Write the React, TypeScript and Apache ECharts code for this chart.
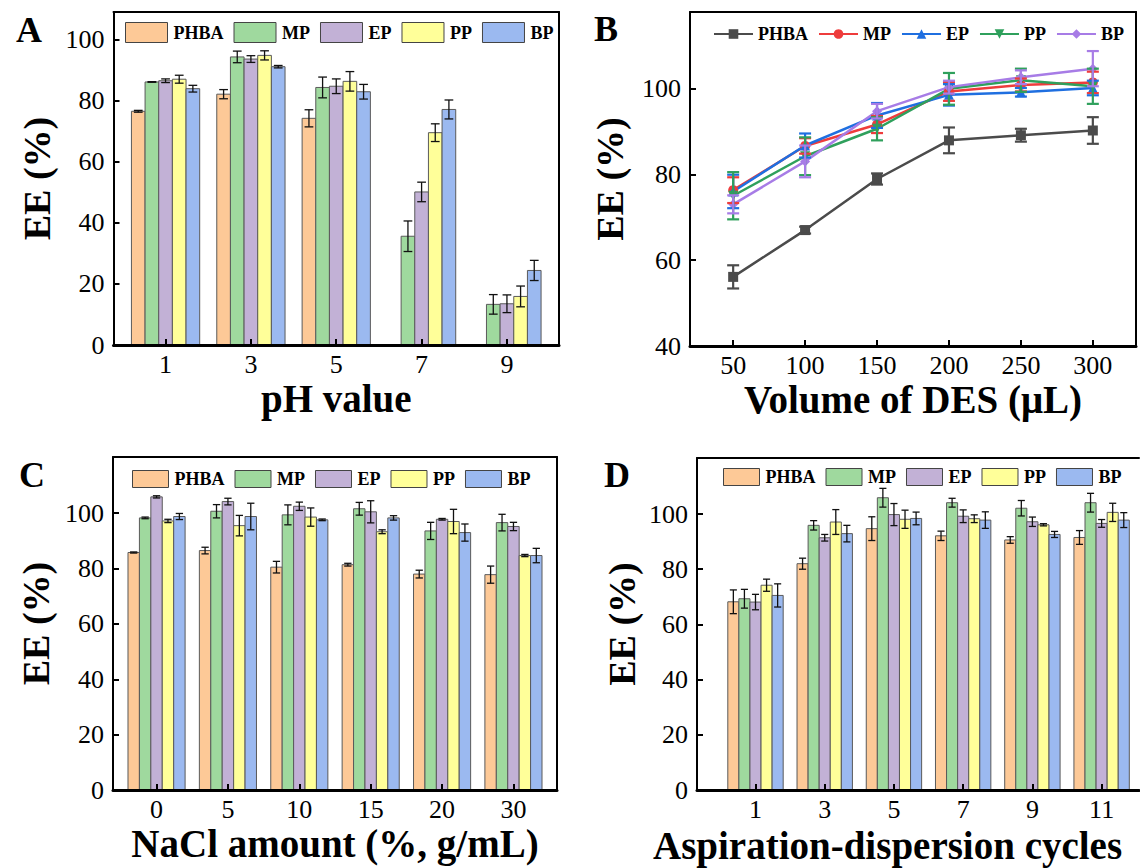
import React, { useEffect, useRef } from 'react';
import * as echarts from 'echarts';

const FONT = 'Liberation Serif, Times New Roman, serif';
const SERIES_NAMES = ['PHBA', 'MP', 'EP', 'PP', 'BP'];
const BAR_COLORS = ['#FDC997', '#9FD99E', '#C2B1D6', '#FFFF99', '#9BB9F0'];
const LINE_COLORS = ['#4B4B4B', '#EE3C3C', '#1F6FE0', '#2FA05C', '#A77CE6'];
const LINE_SYMBOLS = ['rect', 'circle', 'triangle', 'triangle', 'diamond'];
const LINE_SYMBOL_ROTATE = [0, 0, 0, 180, 0];

// Panel A: pH value
const phCategories = ['1', '3', '5', '7', '9'];
const phPHBA = [76.5, 82.1, 74.2, null, null];
const phPHBAErr = [0.3, 1.5, 2.8, null, null];
const phMP = [86.1, 94.3, 84.3, 35.6, 13.3];
const phMPErr = [0.1, 1.9, 3.4, 5.0, 3.2];
const phEP = [86.5, 93.6, 84.7, 50.1, 13.5];
const phEPErr = [0.6, 1.1, 2.4, 3.2, 2.9];
const phPP = [87.0, 94.8, 86.3, 69.5, 15.9];
const phPPErr = [1.3, 1.5, 3.2, 2.9, 3.4];
const phBP = [83.9, 91.1, 82.9, 77.1, 24.4];
const phBPErr = [1.1, 0.4, 2.4, 3.1, 3.3];
const phYTicks = [0, 20, 40, 60, 80, 100];

// Panel B: Volume of DES
const desVolumes = [50, 100, 150, 200, 250, 300];
const desPHBA = [56.1, 67.0, 78.9, 87.9, 89.1, 90.2];
const desPHBAErr = [2.7, 0.8, 1.3, 3.0, 1.5, 3.1];
const desMP = [76.3, 86.6, 91.6, 99.3, 100.8, 101.4];
const desMPErr = [3.0, 1.8, 2.0, 2.2, 1.5, 2.5];
const desEP = [76.0, 86.7, 93.7, 98.5, 99.1, 100.1];
const desEPErr = [3.9, 2.8, 2.9, 2.5, 1.0, 1.7];
const desPP = [75.0, 84.2, 90.6, 99.9, 101.9, 100.5];
const desPPErr = [5.5, 4.4, 2.7, 3.7, 2.7, 4.1];
const desBP = [73.0, 83.0, 94.7, 100.3, 102.6, 104.6];
const desBPErr = [2.1, 3.7, 1.7, 1.5, 1.6, 4.1];
const desYTicks = [40, 60, 80, 100];

// Panel C: NaCl amount
const naclCategories = ['0', '5', '10', '15', '20', '30'];
const naclPHBA = [85.8, 86.5, 80.5, 81.4, 78.0, 77.8];
const naclPHBAErr = [0.2, 1.2, 2.1, 0.5, 1.4, 3.1];
const naclMP = [98.3, 100.7, 99.4, 101.6, 93.6, 96.6];
const naclMPErr = [0.3, 2.4, 3.6, 2.3, 3.1, 3.0];
const naclEP = [105.9, 104.2, 102.5, 100.5, 97.8, 95.2];
const naclEPErr = [0.4, 1.2, 1.5, 4.0, 0.3, 1.5];
const naclPP = [97.2, 95.5, 98.6, 93.3, 97.0, 84.7];
const naclPPErr = [0.6, 3.7, 3.3, 0.7, 4.4, 0.4];
const naclBP = [98.8, 98.8, 97.6, 98.3, 93.0, 84.7];
const naclBPErr = [1.1, 4.8, 0.3, 0.8, 3.1, 2.6];

// Panel D: Aspiration-dispersion cycles
const cycleCategories = ['1', '3', '5', '7', '9', '11'];
const cyclePHBA = [68.2, 82.0, 94.7, 92.1, 90.6, 91.5];
const cyclePHBAErr = [4.3, 2.0, 4.3, 1.7, 1.2, 2.5];
const cycleMP = [69.3, 95.9, 105.9, 104.1, 102.1, 104.1];
const cycleMPErr = [3.4, 1.7, 3.4, 1.6, 2.8, 3.4];
const cycleEP = [68.1, 91.4, 99.8, 99.2, 97.2, 96.6];
const cycleEPErr = [2.8, 1.2, 4.0, 2.3, 1.7, 1.4];
const cyclePP = [74.2, 97.1, 98.1, 98.3, 96.1, 100.6];
const cyclePPErr = [2.2, 4.5, 3.3, 1.4, 0.4, 3.3];
const cycleBP = [70.5, 92.9, 98.4, 97.8, 92.6, 97.8];
const cycleBPErr = [4.2, 3.0, 2.3, 3.0, 1.1, 2.7];
const barYTicks = [0, 20, 40, 60, 80, 100];

const tickRich = { t: { fontFamily: FONT, fontSize: 26, lineHeight: 24, color: '#000' } };
const nameRich = { n: { fontFamily: FONT, fontSize: 39, lineHeight: 36, fontWeight: 'bold', color: '#000' } };
const yNameRich = { n: { fontFamily: FONT, fontSize: 38, lineHeight: 34, fontWeight: 'bold', color: '#000' } };

function bottomAxis(gridIndex: number, min: number, max: number, ticks: number[], fmt: (v: number) => string, name?: string, nameGap?: number) {
  return {
    type: 'value', gridIndex, min, max, position: 'bottom', z: 6,
    axisLine: { show: true, onZero: false, lineStyle: { color: '#000', width: 3 } },
    axisTick: { show: true, inside: true, length: 6, customValues: ticks, lineStyle: { color: '#000', width: 2 } },
    axisLabel: {
      show: true, customValues: ticks, formatter: (v: number) => '{t|' + fmt(v) + '}',
      fontFamily: FONT, fontSize: 26, color: '#000', margin: 7, rich: tickRich,
    },
    splitLine: { show: false },
    name: name ? '{n|' + name + '}' : '', nameLocation: 'middle', nameGap: nameGap || 30,
    nameTextStyle: { fontFamily: FONT, fontSize: 39, fontWeight: 'bold', color: '#000', rich: nameRich },
  };
}
function topFrame(gridIndex: number, min: number, max: number) {
  return {
    type: 'value', gridIndex, min, max, position: 'top', z: 6,
    axisLine: { show: true, onZero: false, lineStyle: { color: '#000', width: 2 } },
    axisTick: { show: false }, axisLabel: { show: false }, splitLine: { show: false },
  };
}
function leftAxis(gridIndex: number, min: number, max: number, ticks: number[], nameGap: number) {
  return {
    type: 'value', gridIndex, min, max, position: 'left', z: 6,
    axisLine: { show: true, onZero: false, lineStyle: { color: '#000', width: 2 } },
    axisTick: { show: true, inside: true, length: 6, customValues: ticks, lineStyle: { color: '#000', width: 2 } },
    axisLabel: {
      show: true, customValues: ticks, formatter: (v: number) => '{t|' + v + '}',
      fontFamily: FONT, fontSize: 26, color: '#000', margin: 9, rich: tickRich,
    },
    splitLine: { show: false },
    name: '{n|EE (%)}', nameLocation: 'middle', nameGap,
    nameTextStyle: { fontFamily: FONT, fontSize: 38, fontWeight: 'bold', color: '#000', rich: yNameRich },
  };
}
function rightFrame(gridIndex: number, min: number, max: number) {
  return {
    type: 'value', gridIndex, min, max, position: 'right', z: 6,
    axisLine: { show: true, onZero: false, lineStyle: { color: '#000', width: 2 } },
    axisTick: { show: false }, axisLabel: { show: false }, splitLine: { show: false },
  };
}

function barSeries(panel: string, axisIdx: number, s: number, values: (number | null)[], errs: (number | null)[]) {
  const data: number[][] = [];
  values.forEach((v, i) => {
    if (v !== null && v !== undefined) data.push([i, v, (errs[i] as number) || 0]);
  });
  const color = BAR_COLORS[s];
  return {
    type: 'custom', name: panel + '-' + SERIES_NAMES[s], xAxisIndex: axisIdx, yAxisIndex: axisIdx,
    itemStyle: { color, borderColor: '#555', borderWidth: 1 },
    encode: { x: 0, y: 1 }, z: 3,
    data,
    renderItem: (params: any, api: any) => {
      const x = api.value(0), y = api.value(1), e = api.value(2);
      const slot = api.size([1, 0])[0];
      const bw = slot * 0.16;
      const base = api.coord([x, 0]);
      const cx = base[0] + (s - 2) * bw;
      const top = api.coord([x, y])[1];
      const eTop = api.coord([x, y + e])[1];
      const eBot = api.coord([x, y - e])[1];
      const cap = bw * 0.32;
      const children: any[] = [
        { type: 'rect', shape: { x: cx - bw / 2, y: top, width: bw, height: base[1] - top }, style: { fill: color, stroke: '#5a5a5a', lineWidth: 1 } },
      ];
      if (e > 0) {
        children.push(
          { type: 'line', shape: { x1: cx, y1: eTop, x2: cx, y2: eBot }, style: { stroke: '#111', lineWidth: 1.3 } },
          { type: 'line', shape: { x1: cx - cap, y1: eTop, x2: cx + cap, y2: eTop }, style: { stroke: '#111', lineWidth: 1.3 } },
          { type: 'line', shape: { x1: cx - cap, y1: eBot, x2: cx + cap, y2: eBot }, style: { stroke: '#111', lineWidth: 1.3 } },
        );
      }
      return { type: 'group', children };
    },
  };
}

function lineSeries(s: number, values: number[]) {
  return {
    type: 'line', name: 'B-' + SERIES_NAMES[s], xAxisIndex: 2, yAxisIndex: 2, z: 3,
    data: desVolumes.map((x, i) => [x, values[i]]),
    symbol: LINE_SYMBOLS[s], symbolSize: 10, symbolRotate: LINE_SYMBOL_ROTATE[s],
    lineStyle: { color: LINE_COLORS[s], width: 2.5 },
    itemStyle: { color: LINE_COLORS[s] },
  };
}
function lineErrSeries(s: number, values: number[], errs: number[]) {
  const color = LINE_COLORS[s];
  return {
    type: 'custom', name: 'B-err-' + SERIES_NAMES[s], xAxisIndex: 2, yAxisIndex: 2, z: 4,
    encode: { x: 0, y: 1 },
    data: desVolumes.map((x, i) => [x, values[i], errs[i]]),
    renderItem: (params: any, api: any) => {
      const x = api.value(0), y = api.value(1), e = api.value(2);
      const p1 = api.coord([x, y + e]);
      const p2 = api.coord([x, y - e]);
      const cap = 6;
      const st = { stroke: color, lineWidth: 2.2 };
      return {
        type: 'group', children: [
          { type: 'line', shape: { x1: p1[0], y1: p1[1], x2: p2[0], y2: p2[1] }, style: st },
          { type: 'line', shape: { x1: p1[0] - cap, y1: p1[1], x2: p1[0] + cap, y2: p1[1] }, style: st },
          { type: 'line', shape: { x1: p2[0] - cap, y1: p2[1], x2: p2[0] + cap, y2: p2[1] }, style: st },
        ],
      };
    },
  };
}

function barLegend(panel: string, left: number, top: number, iw: number, ih: number) {
  return {
    left, top, padding: 0, itemGap: 10, itemWidth: iw, itemHeight: ih, icon: 'rect', orient: 'horizontal',
    selectedMode: false,
    data: SERIES_NAMES.map((n, s) => ({ name: panel + '-' + n, itemStyle: { color: BAR_COLORS[s], borderColor: '#444', borderWidth: 1 } })),
    formatter: (name: string) => name.split('-')[1],
    textStyle: { fontFamily: FONT, color: '#000', fontSize: 18, fontWeight: 'bold', padding: [0, 0, 0, 1] },
  };
}

export default function App() {
  const ref = useRef<HTMLDivElement>(null);
  useEffect(() => {
    if (!ref.current) return;
    const chart = echarts.init(ref.current, null, { renderer: 'svg' });
    const idx = (v: number, cats: string[]) => cats[Math.round(v)] ?? '';
    const option: any = {
      animation: false,
      backgroundColor: '#fff',
      textStyle: { fontFamily: FONT, color: '#000' },
      grid: [
        { left: 113.5, top: 12, width: 445.5, height: 333, outerBoundsMode: 'none' },
        { left: 690, top: 12, width: 446, height: 334, outerBoundsMode: 'none' },
        { left: 113, top: 457, width: 444, height: 333, outerBoundsMode: 'none' },
        { left: 697, top: 458, width: 442, height: 332, outerBoundsMode: 'none' },
      ],
      xAxis: [
        bottomAxis(0, -0.61, 4.61, [0, 1, 2, 3, 4], (v) => idx(v, phCategories), 'pH value', 35),
        topFrame(0, -0.61, 4.61),
        bottomAxis(1, 20, 330, desVolumes, (v) => String(v), 'Volume of DES (μL)', 35),
        topFrame(1, 20, 330),
        bottomAxis(2, -0.61, 5.61, [0, 1, 2, 3, 4, 5], (v) => idx(v, naclCategories), 'NaCl amount (%, g/mL)', 35),
        topFrame(2, -0.61, 5.61),
        bottomAxis(3, -0.845, 5.54, [0, 1, 2, 3, 4, 5], (v) => idx(v, cycleCategories)),
        topFrame(3, -0.845, 5.54),
      ],
      yAxis: [
        leftAxis(0, 0, 109, phYTicks, 60),
        rightFrame(0, 0, 109),
        leftAxis(1, 40, 117.8, desYTicks, 63),
        rightFrame(1, 40, 117.8),
        leftAxis(2, 0, 120.3, barYTicks, 60),
        rightFrame(2, 0, 120.3),
        leftAxis(3, 0, 120.3, barYTicks, 58),
      ],
      legend: [
        barLegend('A', 125, 22, 42, 20),
        {
          left: 713, top: 25, padding: 0, itemGap: 10, itemWidth: 39, itemHeight: 12, orient: 'horizontal',
          selectedMode: false,
          data: SERIES_NAMES.map((n) => 'B-' + n),
          formatter: (name: string) => name.split('-')[1],
          textStyle: { fontFamily: FONT, color: '#000', fontSize: 18, fontWeight: 'bold' },
        },
        barLegend('C', 132, 470, 36, 17),
        barLegend('D', 723, 468, 36, 17),
      ],
      graphic: [
        { type: 'text', x: 16, y: 30, style: { text: 'A', font: 'bold 36px "Liberation Serif"', fill: '#000', align: 'left', verticalAlign: 'middle' } },
        { type: 'text', x: 594, y: 29, style: { text: 'B', font: 'bold 36px "Liberation Serif"', fill: '#000', align: 'left', verticalAlign: 'middle' } },
        { type: 'text', x: 19, y: 475, style: { text: 'C', font: 'bold 36px "Liberation Serif"', fill: '#000', align: 'left', verticalAlign: 'middle' } },
        { type: 'text', x: 604, y: 475, style: { text: 'D', font: 'bold 36px "Liberation Serif"', fill: '#000', align: 'left', verticalAlign: 'middle' } },
        { type: 'text', x: 653, y: 845, style: { text: 'Aspiration-dispersion cycles', font: 'bold 39px "Liberation Serif"', fill: '#000', align: 'left', verticalAlign: 'middle' } },
      ],
      series: [
        barSeries('A', 0, 0, phPHBA, phPHBAErr),
        barSeries('A', 0, 1, phMP, phMPErr),
        barSeries('A', 0, 2, phEP, phEPErr),
        barSeries('A', 0, 3, phPP, phPPErr),
        barSeries('A', 0, 4, phBP, phBPErr),
        lineSeries(0, desPHBA), lineSeries(1, desMP), lineSeries(2, desEP), lineSeries(3, desPP), lineSeries(4, desBP),
        lineErrSeries(0, desPHBA, desPHBAErr), lineErrSeries(1, desMP, desMPErr), lineErrSeries(2, desEP, desEPErr),
        lineErrSeries(3, desPP, desPPErr), lineErrSeries(4, desBP, desBPErr),
        barSeries('C', 4, 0, naclPHBA, naclPHBAErr),
        barSeries('C', 4, 1, naclMP, naclMPErr),
        barSeries('C', 4, 2, naclEP, naclEPErr),
        barSeries('C', 4, 3, naclPP, naclPPErr),
        barSeries('C', 4, 4, naclBP, naclBPErr),
        barSeries('D', 6, 0, cyclePHBA, cyclePHBAErr),
        barSeries('D', 6, 1, cycleMP, cycleMPErr),
        barSeries('D', 6, 2, cycleEP, cycleEPErr),
        barSeries('D', 6, 3, cyclePP, cyclePPErr),
        barSeries('D', 6, 4, cycleBP, cycleBPErr),
      ],
    };
    chart.setOption(option);
    return () => chart.dispose();
  }, []);
  return <div ref={ref} style={{ position: 'fixed', left: 0, top: 0, width: 1140, height: 868, background: '#fff' }} />;
}
